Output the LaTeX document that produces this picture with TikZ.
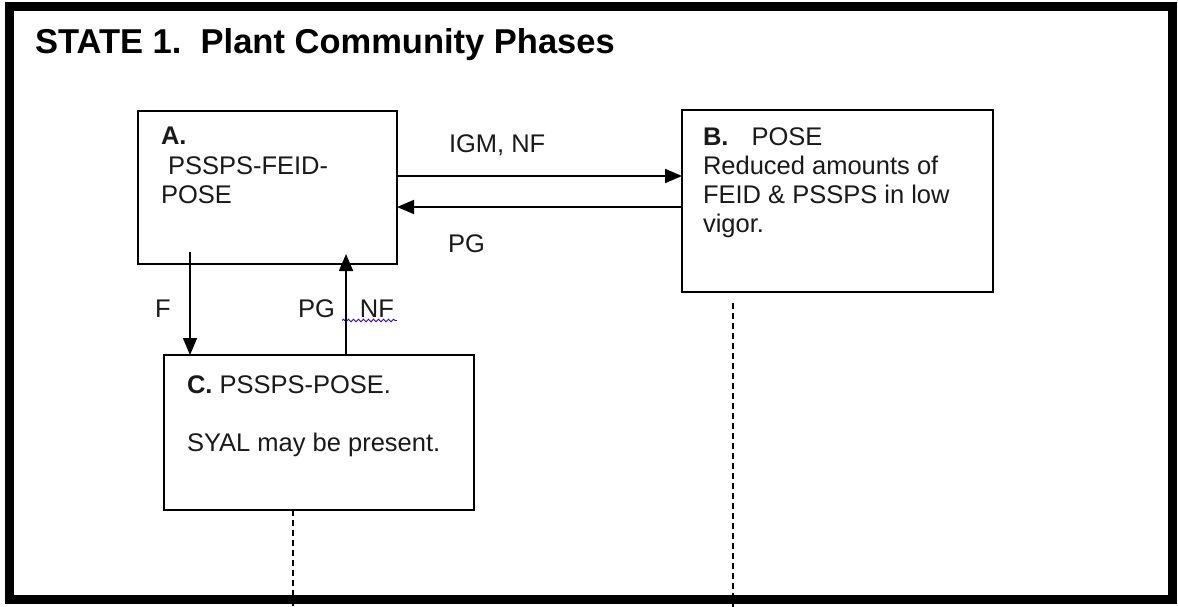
\documentclass[tikz,border=0pt]{standalone}
\usepackage{fontspec}
\setmainfont{Liberation Sans}
\usetikzlibrary{arrows.meta,decorations.pathmorphing}
\begin{document}
\begin{tikzpicture}[x=1pt,y=-1pt,
  box/.style={draw=black,line width=1.8pt,inner sep=0pt,outer sep=0pt,anchor=north west},
  body/.style={inner sep=0pt,outer sep=0pt,anchor=base west,font=\fontsize{25.5}{29}\selectfont,text=black!90},
  arr/.style={line width=1.8pt,-{Triangle[length=17pt,width=14pt]}},
  dsh/.style={line width=1.8pt,dash pattern=on 6pt off 4pt},
  squig/.style={decorate,decoration={snake,amplitude=1.3pt,segment length=5pt},draw=blue!60!violet,line width=0.9pt}]
\useasboundingbox (0,0) rectangle (1178,607);
\fill[white] (0,0) rectangle (1178,607);
% outer frame
\node[draw,line width=9pt,inner sep=0pt,outer sep=0pt,minimum width=1163pt,minimum height=593pt,anchor=north west] (frame) at (9,6.5) {};
% title
\node[inner sep=0pt,anchor=base west,font=\bfseries\fontsize{34.5}{40}\selectfont] (title) at (35,54) {STATE 1.\ \ Plant Community Phases};
% boxes
\node[box,minimum width=259pt,minimum height=153pt] (A) at (138,111) {};
\node[box,minimum width=311pt,minimum height=182pt] (B) at (682,110) {};
\node[box,minimum width=310pt,minimum height=155pt] (C) at (164,355) {};
% box texts
\node[body] (Atxt) at (161,145) {\vtop{\baselineskip=29.5pt\hbox{\textbf{A.}}\hbox{\hspace{7pt}PSSPS-FEID-}\hbox{POSE}}};
\node[body] (Btxt) at (703,146) {\vtop{\baselineskip=28.8pt\hbox{\textbf{B.}\hspace{23pt}POSE}\hbox{Reduced amounts of}\hbox{FEID \& PSSPS in low}\hbox{vigor.}}};
\node[body] (Ctxt) at (187,393) {\vtop{\baselineskip=29pt\hbox{\textbf{C.} PSSPS-POSE.}\hbox{}\hbox{SYAL may be present.}}};
% connector labels
\node[body] (lIGM) at (449,153) {IGM, NF};
\node[body] (lPG) at (448,252) {PG};
\node[body] (lF) at (155,317) {F};
\node[body] (lPGNF) at (298,317) {PG\hspace{25pt}NF};
\draw[squig] ([xshift=44pt,yshift=-3.5pt]lPGNF.base west) -- ([xshift=3pt,yshift=-3.5pt]lPGNF.base east);
% connectors
\coordinate (a1) at ([yshift=11.5pt]A.east);
\coordinate (a2) at ([yshift=-19.5pt]A.east);
\draw[arr] (a1) -- (a1 -| B.west);
\draw[arr] (a2 -| B.west) -- (a2);
\coordinate (f1) at ([xshift=-77.5pt,yshift=12pt]A.south);
\coordinate (p1) at ([xshift=78.5pt,yshift=10pt]A.south);
\draw[arr] (f1) -- (f1 |- C.north);
\draw[arr] (p1 |- C.north) -- (p1);
% dashed exits
\coordinate (bottomEdge) at (0,607);
\coordinate (cd) at ([xshift=-26pt]C.south);
\coordinate (bd) at ([xshift=-104.5pt,yshift=-11pt]B.south);
\draw[dsh] (cd) -- (cd |- bottomEdge);
\draw[dsh] (bd) -- (bd |- bottomEdge);
\end{tikzpicture}
\end{document}
